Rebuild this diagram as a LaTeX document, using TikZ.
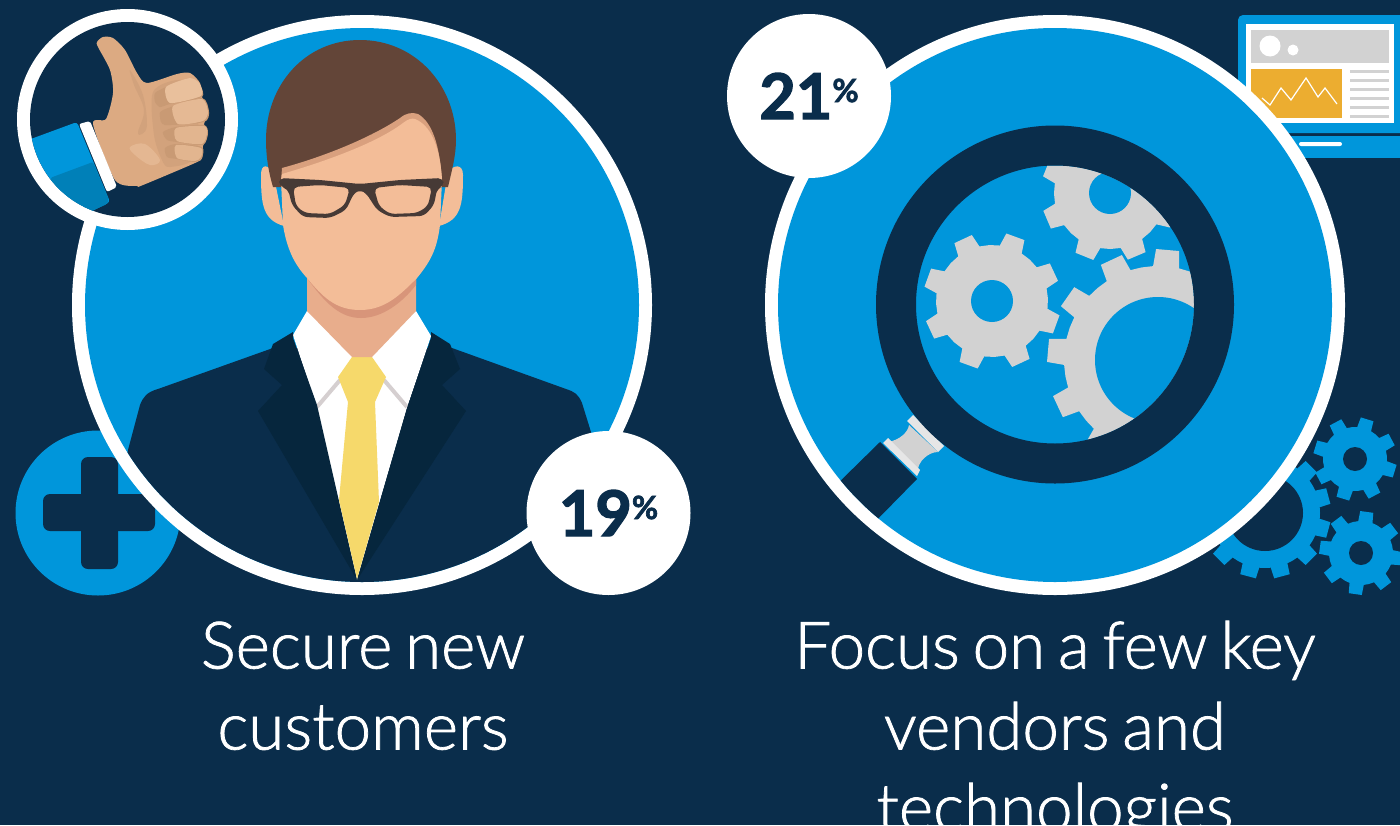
\documentclass[tikz,border=0pt]{standalone}
\usepackage{fontspec}
\setmainfont{Lato}
\newfontfamily\lightfont{Lato Light}[WordSpace=0.72,RawFeature={embolden=1.2}]
\newfontfamily\boldfont{Lato}[UprightFont=* Bold,RawFeature={embolden=2.2}]
\definecolor{bg}{HTML}{0A2D4B}
\definecolor{blue}{HTML}{0096DB}
\definecolor{blued}{HTML}{0080B8}
\definecolor{lap}{HTML}{06263D}
\definecolor{gearg}{HTML}{D2D2D2}
\definecolor{hand}{HTML}{DCAA82}
\definecolor{handd}{HTML}{D2A27C}
\definecolor{handb}{HTML}{C99A74}
\definecolor{handl}{HTML}{E9C09C}
\definecolor{hair}{HTML}{634538}
\definecolor{skin}{HTML}{F3BD98}
\definecolor{skind}{HTML}{D9A07E}
\definecolor{neck}{HTML}{E8AD8C}
\definecolor{neckd}{HTML}{D8957A}
\definecolor{frame}{HTML}{463A36}
\definecolor{tie}{HTML}{F6D96B}
\definecolor{orange}{HTML}{ECAD30}
\definecolor{collarg}{HTML}{D5CFD0}
\definecolor{strip}{HTML}{E6E6E6}
\tikzset{
 caption/.style={font=\lightfont\fontsize{65.5}{81}\selectfont,text=white,align=center,inner sep=0pt,anchor=base},
 pct/.style={circle,fill=white,minimum size=164pt,inner sep=0pt,text=bg,font=\boldfont\fontsize{63}{63}\selectfont}
}
\newcommand{\pctsign}{\raisebox{17pt}{\fontsize{32}{32}\selectfont\%}}
% #1 colour, #2 cx, #3 cy, #4 root radius, #5 tip radius, #6 teeth, #7 phase, #8 root half angle, #9 tip half angle
\newcommand{\gearshape}[9]{%
 \begin{scope}[shift={(#2,#3)}]
 \fill[#1] (#7-#8:#4)
  \foreach \kk [evaluate=\kk as \aa using #7+\kk*360/#6] in {0,...,\numexpr#6-1\relax}{
   -- (\aa-#8:#4) -- (\aa-#9:#5) -- (\aa+#9:#5) -- (\aa+#8:#4) -- (\aa+180/#6:#4)
  } -- cycle;
 \end{scope}}
\begin{document}
\begin{tikzpicture}[x=1pt,y=-1pt]
\useasboundingbox (0,0) rectangle (1400,825);
\clip (0,0) rectangle (1400,825);
\fill[bg] (0,0) rectangle (1400,825);

% ---------- LEFT ----------
\fill[blue] (98,513) circle (82.5pt);
\fill[bg,rounded corners=7pt] (81,457) rectangle (118,569);
\fill[bg,rounded corners=7pt] (43,494) rectangle (155,531);
\fill[white] (362,305) circle (290pt);
\fill[blue] (362,305) circle (277pt);
\begin{scope}
 \clip (362,305) circle (277pt);
 % suit
 \fill[bg] (273,348) -- (158,389) .. controls (147,392) and (143,397) .. (140,405) -- (128,450) -- (100,620) -- (620,620) -- (591,432) -- (582,403) .. controls (578,394) and (575,392) .. (566,389) -- (452,348) -- cycle;
 % shirt
 \fill[white] (307,311) -- (293,335) -- (317,408) -- (357,580) -- (407,408) -- (431,336) -- (416,311) -- cycle;
 \draw[draw=collarg,line width=4pt] (317,407) -- (340,380);
 \draw[draw=collarg,line width=4pt] (384,380) -- (407,407);
 % lapels
 \fill[lap] (293,332) -- (273,344) -- (264,369) -- (282,385) -- (258,411) -- (357,580) -- (317,405) -- (293,338) -- cycle;
 \fill[lap] (431,332) -- (450,344) -- (460,369) -- (442,385) -- (466,411) -- (357,580) -- (407,408) -- (431,338) -- cycle;
 % tie
 \fill[tie] (352,357) -- (372,357) -- (386,377) -- (375,402) -- (379,502) -- (357,579) -- (339,500) -- (348,402) -- (338,377) -- cycle;
\end{scope}
% neck
\fill[neck] (307,270) -- (307,311) -- (352,357) -- (372,357) -- (416,311) -- (416,270) -- cycle;
\fill[neckd] (307,278) .. controls (325,303) and (340,318) .. (361,318) .. controls (382,318) and (402,303) .. (416,285) -- (416,270) -- (307,270) -- cycle;
% ears
\fill[skin] (273,172) .. controls (268,165) and (261,163) .. (261,175) .. controls (261,205) and (263,220) .. (284,226) -- cycle;
\fill[skin] (448,172) .. controls (453,165) and (463,163) .. (463,175) .. controls (463,205) and (461,220) .. (439,226) -- cycle;
% hair
\fill[hair] (273,187) .. controls (268,170) and (266,155) .. (266,140) .. controls (266,85) and (305,40) .. (360,40) .. controls (415,40) and (456,85) .. (456,140) .. controls (456,155) and (452,170) .. (448,187) -- cycle;
% face
\fill[skind] (281,182) -- (282,168) .. controls (330,155) and (375,135) .. (400,118) .. controls (406,113) and (412,112) .. (418,114) .. controls (432,122) and (440,145) .. (442,182) -- cycle;
\fill[skin] (282,174) .. controls (330,160) and (378,142) .. (403,123) .. controls (408,119) and (412,118) .. (415,119) .. controls (430,125) and (440,145) .. (442,180) -- (440,225) .. controls (437,250) and (430,262) .. (417,278) .. controls (400,295) and (385,310) .. (360,310) .. controls (335,310) and (322,296) .. (307,278) .. controls (295,265) and (287,250) .. (283,225) -- (281,180) -- cycle;
% glasses
\fill[frame,even odd rule,rounded corners=5pt] (279,178) -- (320,180) -- (360,184) -- (400,180) -- (443,178) -- (444,186) -- (437,189) -- (434,205) -- (424,216) -- (390,217) -- (377,210) -- (366,193) -- (360,190) -- (354,193) -- (346,210) -- (330,218) -- (303,217) -- (292,205) -- (288,189) -- (279,186) -- cycle
 (293,187) -- (320,185) -- (350,188) -- (345,205) -- (330,214) -- (305,213) -- (296,206) -- cycle
 (374,188) -- (400,185) -- (432,187) -- (428,206) -- (417,213) -- (390,214) -- (379,206) -- cycle;

% thumbs-up badge
\fill[white] (127.5,119.5) circle (110.5pt);
\fill[bg] (127.5,119.5) circle (97.5pt);
\begin{scope}
 \clip (127.5,119.5) circle (97.5pt);
 \fill[blue,rounded corners=3pt] (20,143) -- (77,122) -- (110,202) -- (90,212) -- (60,240) -- cycle;
 \fill[blued,rounded corners=2pt] (50,178) -- (93,162) -- (109,200) -- (107,204) -- (85,214) -- (60,230) -- cycle;
 \fill[hand] plot[smooth cycle,tension=0.45] coordinates {(97,42) (103,37) (113,38) (125,50) (137,73) (147,83) (177,74) (190,73) (200,83) (202,97) (209,112) (204,124) (208,133) (203,146) (202,158) (195,163) (143,185) (137,186) (115,180) (93,124) (106,119) (113,93) (110,70) (98,47)};
 \fill[handd] plot[smooth cycle,tension=0.5] coordinates {(153,92) (178,80) (196,90) (196,155) (170,167) (162,160) (154,135)};
 \fill[handd] plot[smooth cycle,tension=0.6] coordinates {(130,70) (143,95) (147,125) (142,134) (138,132) (144,110) (134,85)};
 \fill[handl!60!hand] plot[smooth cycle,tension=0.6] coordinates {(130,147) (145,144) (160,160) (150,165) (135,155)};
 % fingers
 \fill[handb] plot[smooth cycle,tension=0.4] coordinates {(155,93) (166,87) (190,78) (200,85) (202,97) (170,104) (160,107) (155,102)};
 \fill[handl] plot[smooth cycle,tension=0.4] coordinates {(166,87) (190,78) (200,84) (201,96) (170,103)};
 \fill[handb] plot[smooth cycle,tension=0.4] coordinates {(163,110) (202,98) (209,112) (204,122) (165,125) (160,117)};
 \fill[handl!70!hand] plot[smooth cycle,tension=0.4] coordinates {(173,106) (202,99) (208,112) (203,121) (178,124)};
 \fill[handb] plot[smooth cycle,tension=0.4] coordinates {(163,132) (176,127) (204,125) (208,133) (203,145) (177,142) (167,140)};
 \fill[handl!50!hand] plot[smooth cycle,tension=0.4] coordinates {(176,128) (204,126) (207,133) (202,144) (177,141)};
 \fill[handb] plot[smooth cycle,tension=0.4] coordinates {(165,148) (176,144) (202,147) (202,158) (195,162) (177,159) (167,157)};
 \fill[handl!50!hand] plot[smooth cycle,tension=0.4] coordinates {(176,145) (201,148) (201,157) (195,161) (177,158)};
 \fill[white,rounded corners=2pt] (79,124) -- (90,121) -- (117,187) -- (107,192) -- cycle;
\end{scope}
\node[pct] (pctleft) at (608.5,513) {19\pctsign};
\node[caption] (capleft) at (363,749.5) {Secure new\\customers};

% ---------- RIGHT: background icons ----------
\fill[blue,rounded corners=5pt] (1238,15) rectangle (1420,133);
\fill[white] (1246,24) rectangle (1394,123);
\fill[gearg] (1251,30) rectangle (1389,63);
\fill[white] (1270,46) circle (10.5pt);
\fill[white] (1293,50) circle (5.5pt);
\fill[orange] (1251,69) rectangle (1342,118);
\draw[white,line width=1.2pt] (1262,98) -- (1270,105) -- (1281,88) -- (1291,100) -- (1306,78) -- (1318,97) -- (1325,88) -- (1337,104);
\foreach \yy in {70,79,88,97,106,115}{\fill[gearg] (1350,\yy) rectangle (1389,\yy+3);}
\fill[blue] (1260,136) rectangle (1400,158);
\fill[white,rounded corners=2pt] (1299,142) rectangle (1342,146);

\gearshape{blue}{1265}{513}{55}{66}{12}{15}{9}{7}
\fill[bg] (1265,513) circle (38pt);
\gearshape{blue}{1355}{459}{32}{42}{8}{17}{13}{9}
\fill[bg] (1355,459) circle (12pt);
\gearshape{blue}{1361}{553}{32}{42}{8}{8}{13}{9}
\fill[bg] (1361,553) circle (12pt);

\fill[white] (1055,305) circle (290pt);
\fill[blue] (1055,305) circle (277pt);
% handle
\begin{scope}
 \clip (1055,305) circle (277pt);
 \fill[bg] (880,442) -- (917,479) -- (865,532) -- (827,494) -- cycle;
\end{scope}
\fill[gearg] (888,442) .. controls (900,440) and (908,432) .. (909,425) -- (938,452) .. controls (928,452) and (918,462) .. (918,470) -- cycle;
\fill[strip] (883,443) -- (888,438) -- (920,470) -- (917,476) -- cycle;
\fill[strip] (907,421) -- (913,415) -- (944,446) -- (938,452) -- cycle;
% lens gears
\begin{scope}
 \clip (1055,304.5) circle (139pt);
 \gearshape{gearg}{992}{301}{56}{69}{8}{20}{12}{8}
 \fill[blue] (992,301) circle (21pt);
 \gearshape{gearg}{1110}{193}{56}{69}{8}{22}{12}{8}
 \fill[blue] (1110,193) circle (21pt);
 \gearshape{gearg}{1158}{360}{94}{111}{12}{5}{8}{6}
 \fill[blue] (1158,360) circle (63pt);
\end{scope}
\draw[bg,line width=40pt] (1055,304.5) circle (159pt);
\node[pct] (pctright) at (809,96) {21\pctsign};
\node[caption] (capright) at (1055,830.5) {Focus on a few key\\vendors and\\technologies};
\end{tikzpicture}
\end{document}
